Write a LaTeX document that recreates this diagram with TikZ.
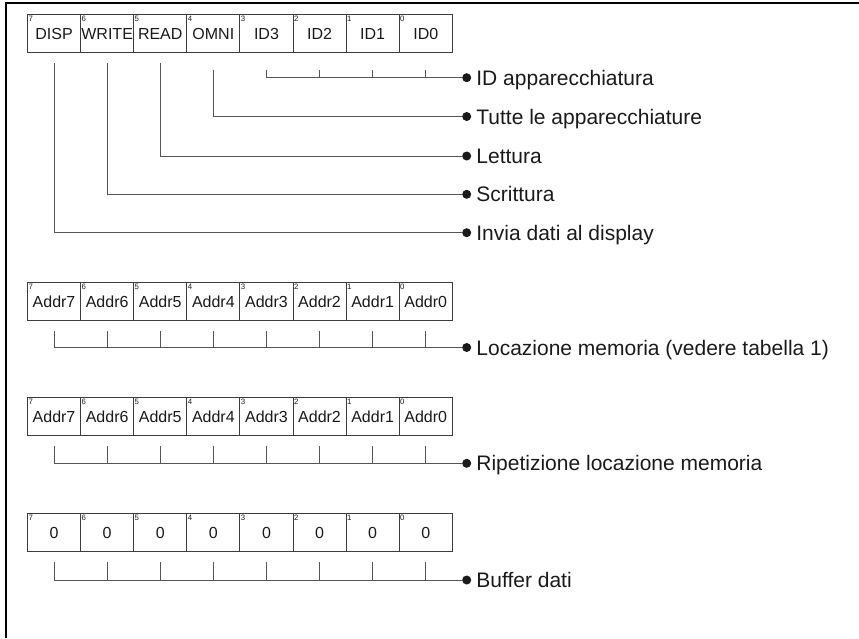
\documentclass[tikz,border=0pt]{standalone}
\usepackage{fontspec}
\setmainfont{Liberation Sans}
\usetikzlibrary{calc}
\definecolor{boxline}{HTML}{3C3C3C}
\definecolor{connline}{HTML}{555555}
\definecolor{ink}{HTML}{1A1A1A}
\begin{document}
\begin{tikzpicture}[x=1pt,y=-1pt,
  bitbox/.style={draw=boxline, line width=1pt, minimum width=53.1pt, minimum height=38pt,
    inner sep=0pt, anchor=north west, text=ink, font=\fontsize{16}{17}\selectfont},
  bitnum/.style={inner sep=0pt, anchor=base west, text=ink, font=\fontsize{7.8}{8}\selectfont},
  conn/.style={draw=connline, line width=1pt},
  dotmark/.style={circle, fill=ink, inner sep=0pt, minimum size=9pt},
  lbl/.style={inner sep=0pt, anchor=base west, text=ink, font=\fontsize{21}{25}\selectfont},
  frame/.style={draw=black, line width=2pt}]
\useasboundingbox (0,0) rectangle (859,638);
\draw[frame] (6,638) -- (6,3) -- (859,3);

% register 1
\foreach \i/\t in {0/DISP,1/WRITE,2/READ,3/OMNI,4/ID3,5/ID2,6/ID1,7/ID0}{
  \pgfmathtruncatemacro\b{7-\i}
  \node[bitbox] (r1b\i) at (27+53.1*\i,14) {\t};
  \node[bitnum] (n1b\i) at ($(r1b\i.north west)+(1.3,7.2)$) {\b};
}
% register 2
\foreach \i in {0,...,7}{
  \pgfmathtruncatemacro\b{7-\i}
  \node[bitbox] (r2b\i) at (27+53.1*\i,282) {Addr\b};
  \node[bitnum] (n2b\i) at ($(r2b\i.north west)+(1.3,7.2)$) {\b};
}
% register 3
\foreach \i in {0,...,7}{
  \pgfmathtruncatemacro\b{7-\i}
  \node[bitbox] (r3b\i) at (27+53.1*\i,397) {Addr\b};
  \node[bitnum] (n3b\i) at ($(r3b\i.north west)+(1.3,7.2)$) {\b};
}
% register 4
\foreach \i in {0,...,7}{
  \pgfmathtruncatemacro\b{7-\i}
  \node[bitbox] (r4b\i) at (27+53.1*\i,513) {0};
  \node[bitnum] (n4b\i) at ($(r4b\i.north west)+(1.3,7.2)$) {\b};
}

% dots
\node[dotmark] (d1) at (466.7,77.7) {};
\node[dotmark] (d2) at (466.7,116.5) {};
\node[dotmark] (d3) at (466.7,156) {};
\node[dotmark] (d4) at (466.7,194.3) {};
\node[dotmark] (d5) at (466.7,232.7) {};
\node[dotmark] (d6) at (466.7,347.5) {};
\node[dotmark] (d7) at (466.7,463.3) {};
\node[dotmark] (d8) at (466.7,580) {};

% labels
\node[lbl] (l1) at ($(d1)+(9.5,7.6)$) {ID apparecchiatura};
\node[lbl] (l2) at ($(d2)+(9.5,7.6)$) {Tutte le apparecchiature};
\node[lbl] (l3) at ($(d3)+(9.5,7.6)$) {Lettura};
\node[lbl] (l4) at ($(d4)+(9.5,7.6)$) {Scrittura};
\node[lbl] (l5) at ($(d5)+(9.5,7.6)$) {Invia dati al display};
\node[lbl] (l6) at ($(d6)+(9.5,7.6)$) {Locazione memoria (vedere tabella 1)};
\node[lbl] (l7) at ($(d7)+(9.5,7.6)$) {Ripetizione locazione memoria};
\node[lbl] (l8) at ($(d8)+(9.5,7.6)$) {Buffer dati};

% connectors register 1
\draw[conn] ($(r1b4.south)+(0,17.3)$) |- (d1);
\foreach \i in {5,6,7}{
  \draw[conn] ($(r1b\i.south)+(0,17.3)$) -- (r1b\i.south |- d1);
}
\draw[conn] ($(r1b3.south)+(0,17.3)$) |- (d2);
\draw[conn] ($(r1b2.south)+(0,10.3)$) |- (d3);
\draw[conn] ($(r1b1.south)+(0,10.3)$) |- (d4);
\draw[conn] ($(r1b0.south)+(0,10.3)$) |- (d5);

% connectors registers 2-4
\foreach \r/\d in {2/d6,3/d7,4/d8}{
  \draw[conn] ($(r\r b0.south)+(0,10)$) |- (\d);
  \foreach \i in {1,...,7}{
    \draw[conn] ($(r\r b\i.south)+(0,10)$) -- (r\r b\i.south |- \d);
  }
}
\end{tikzpicture}
\end{document}
